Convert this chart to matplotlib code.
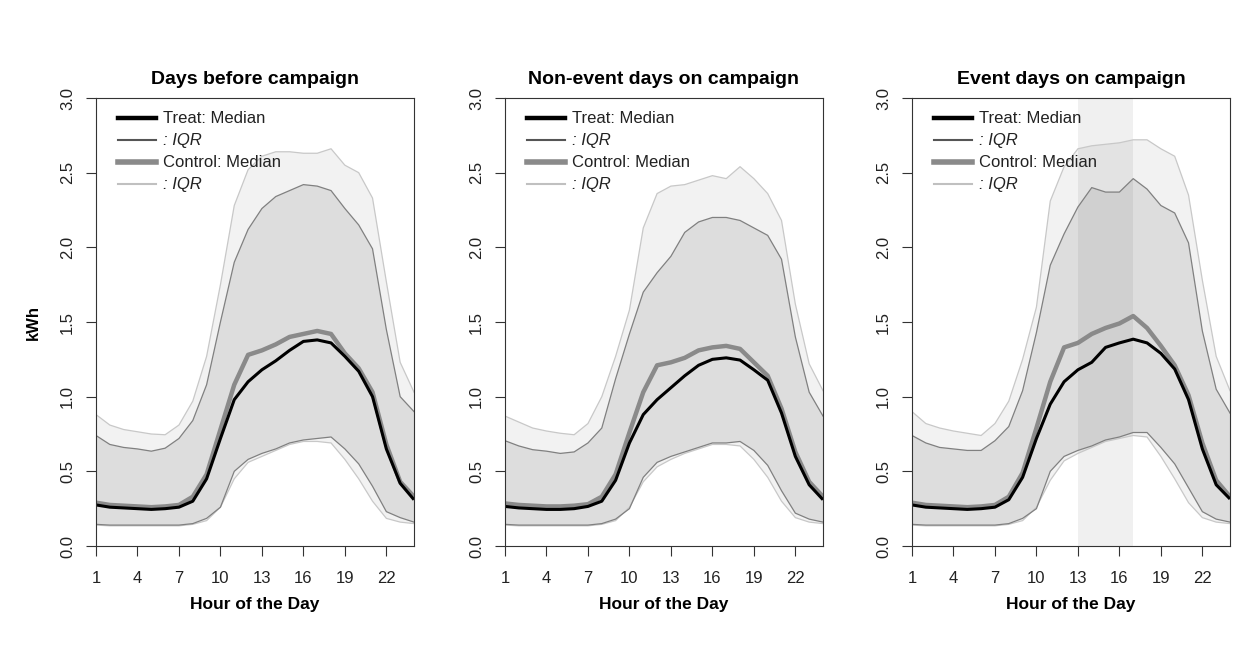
import matplotlib
matplotlib.use("Agg")
import matplotlib.pyplot as plt
from matplotlib.lines import Line2D

plt.rcParams['font.family'] = ['Liberation Sans', 'DejaVu Sans']

hours = list(range(1, 25))

titles = ["Days before campaign", "Non-event days on campaign", "Event days on campaign"]

# Days before campaign
treat_med_1 = [0.275, 0.26, 0.255, 0.25, 0.245, 0.25, 0.26, 0.30, 0.45, 0.72, 0.98, 1.10,
               1.18, 1.24, 1.31, 1.37, 1.38, 1.36, 1.27, 1.17, 1.00, 0.65, 0.42, 0.31]
ctrl_med_1 = [0.29, 0.275, 0.27, 0.265, 0.26, 0.265, 0.275, 0.33, 0.48, 0.78, 1.08, 1.28,
              1.31, 1.35, 1.40, 1.42, 1.44, 1.42, 1.29, 1.19, 1.03, 0.68, 0.43, 0.33]
treat_hi_1 = [0.74, 0.68, 0.66, 0.65, 0.635, 0.655, 0.72, 0.84, 1.08, 1.50, 1.90, 2.12,
              2.26, 2.34, 2.38, 2.42, 2.41, 2.38, 2.26, 2.15, 1.99, 1.45, 1.00, 0.90]
treat_lo_1 = [0.145, 0.14, 0.14, 0.14, 0.14, 0.14, 0.14, 0.15, 0.185, 0.26, 0.50, 0.58,
              0.62, 0.65, 0.69, 0.71, 0.72, 0.73, 0.65, 0.55, 0.40, 0.23, 0.19, 0.16]
ctrl_hi_1 = [0.88, 0.81, 0.78, 0.765, 0.75, 0.745, 0.81, 0.97, 1.27, 1.75, 2.28, 2.52,
             2.61, 2.64, 2.64, 2.63, 2.63, 2.66, 2.55, 2.50, 2.33, 1.77, 1.23, 1.03]
ctrl_lo_1 = [0.14, 0.135, 0.135, 0.135, 0.135, 0.135, 0.135, 0.145, 0.17, 0.26, 0.45, 0.56,
             0.60, 0.64, 0.68, 0.70, 0.70, 0.69, 0.58, 0.45, 0.30, 0.185, 0.16, 0.15]

# Non-event days on campaign
treat_med_2 = [0.265, 0.255, 0.25, 0.245, 0.245, 0.25, 0.265, 0.30, 0.44, 0.69, 0.88, 0.98,
               1.06, 1.14, 1.21, 1.25, 1.26, 1.245, 1.18, 1.11, 0.89, 0.60, 0.41, 0.31]
ctrl_med_2 = [0.285, 0.275, 0.27, 0.265, 0.265, 0.27, 0.28, 0.33, 0.48, 0.76, 1.03, 1.21,
              1.23, 1.26, 1.31, 1.33, 1.34, 1.32, 1.23, 1.14, 0.92, 0.63, 0.43, 0.33]
treat_hi_2 = [0.705, 0.67, 0.645, 0.635, 0.62, 0.63, 0.69, 0.79, 1.12, 1.42, 1.70, 1.83,
              1.94, 2.10, 2.17, 2.20, 2.20, 2.18, 2.13, 2.08, 1.92, 1.40, 1.03, 0.87]
treat_lo_2 = [0.145, 0.14, 0.14, 0.14, 0.14, 0.14, 0.14, 0.15, 0.18, 0.25, 0.46, 0.56,
              0.60, 0.63, 0.66, 0.69, 0.69, 0.70, 0.64, 0.54, 0.37, 0.22, 0.18, 0.16]
ctrl_hi_2 = [0.87, 0.83, 0.79, 0.77, 0.755, 0.745, 0.82, 1.00, 1.27, 1.58, 2.13, 2.36,
             2.41, 2.42, 2.45, 2.48, 2.46, 2.54, 2.46, 2.36, 2.18, 1.62, 1.22, 1.04]
ctrl_lo_2 = [0.14, 0.135, 0.135, 0.135, 0.135, 0.135, 0.135, 0.145, 0.17, 0.26, 0.43, 0.53,
             0.58, 0.62, 0.65, 0.68, 0.68, 0.67, 0.58, 0.46, 0.30, 0.19, 0.16, 0.15]

# Event days on campaign
treat_med_3 = [0.275, 0.26, 0.255, 0.25, 0.245, 0.25, 0.26, 0.31, 0.46, 0.72, 0.95, 1.10,
               1.18, 1.23, 1.33, 1.36, 1.385, 1.36, 1.29, 1.185, 0.98, 0.65, 0.41, 0.315]
ctrl_med_3 = [0.29, 0.275, 0.27, 0.265, 0.26, 0.265, 0.275, 0.33, 0.49, 0.79, 1.10, 1.33,
              1.36, 1.42, 1.46, 1.49, 1.54, 1.46, 1.34, 1.21, 1.01, 0.69, 0.44, 0.33]
treat_hi_3 = [0.74, 0.69, 0.66, 0.65, 0.64, 0.64, 0.705, 0.80, 1.04, 1.43, 1.88, 2.09,
              2.27, 2.40, 2.37, 2.37, 2.46, 2.39, 2.28, 2.23, 2.03, 1.44, 1.05, 0.89]
treat_lo_3 = [0.145, 0.14, 0.14, 0.14, 0.14, 0.14, 0.14, 0.15, 0.185, 0.25, 0.50, 0.60,
              0.64, 0.67, 0.71, 0.73, 0.76, 0.76, 0.66, 0.55, 0.39, 0.23, 0.18, 0.16]
ctrl_hi_3 = [0.90, 0.82, 0.79, 0.77, 0.755, 0.74, 0.82, 0.97, 1.25, 1.60, 2.31, 2.54,
             2.66, 2.68, 2.69, 2.70, 2.72, 2.72, 2.66, 2.61, 2.35, 1.78, 1.27, 1.04]
ctrl_lo_3 = [0.14, 0.135, 0.135, 0.135, 0.135, 0.135, 0.135, 0.145, 0.17, 0.26, 0.44, 0.57,
             0.62, 0.66, 0.70, 0.72, 0.74, 0.73, 0.60, 0.45, 0.29, 0.19, 0.16, 0.15]

event_window = (13, 17)

panels = [
    (treat_med_1, ctrl_med_1, treat_lo_1, treat_hi_1, ctrl_lo_1, ctrl_hi_1),
    (treat_med_2, ctrl_med_2, treat_lo_2, treat_hi_2, ctrl_lo_2, ctrl_hi_2),
    (treat_med_3, ctrl_med_3, treat_lo_3, treat_hi_3, ctrl_lo_3, ctrl_hi_3),
]

W, H = 1234, 655
fig = plt.figure(figsize=(W / 100, H / 100), dpi=100)

lefts = [96, 505, 912]
axw, bottom, top = 318, 546, 98

for i, (tm, cm, tlo, thi, clo, chi) in enumerate(panels):
    ax = fig.add_axes([lefts[i] / W, (H - bottom) / H, axw / W, (bottom - top) / H])

    # control IQR band (outer, light)
    ax.fill_between(hours, clo, chi, facecolor='black', alpha=0.05, lw=0)
    ax.plot(hours, chi, color='#c8c8c8', lw=0.9)
    ax.plot(hours, clo, color='#c8c8c8', lw=0.9)
    # treat IQR band
    ax.fill_between(hours, tlo, thi, facecolor='black', alpha=0.085, lw=0)
    ax.plot(hours, thi, color='#808080', lw=0.9)
    ax.plot(hours, tlo, color='#808080', lw=0.9)

    ax.plot(hours, cm, color='#8a8a8a', lw=3.2, solid_capstyle='butt')
    ax.plot(hours, tm, color='black', lw=2.2, solid_capstyle='butt')

    if i == 2:
        ax.axvspan(event_window[0], event_window[1], color='black', alpha=0.06, lw=0)

    ax.set_xlim(1, 24)
    ax.set_ylim(0, 3)
    ax.set_xticks([1, 4, 7, 10, 13, 16, 19, 22])
    ax.set_yticks([0, 0.5, 1.0, 1.5, 2.0, 2.5, 3.0])
    ax.set_yticklabels(["0.0", "0.5", "1.0", "1.5", "2.0", "2.5", "3.0"])
    ax.tick_params(axis='both', length=7, width=0.8, color='#333333',
                   labelsize=12, labelcolor='#222222', pad=8)
    ax.tick_params(axis='x', pad=11)
    for lab in ax.get_yticklabels():
        lab.set_rotation(90)
        lab.set_va('center')
    for sp in ax.spines.values():
        sp.set_color('#333333')
        sp.set_linewidth(0.8)

    ax.set_title(titles[i], fontsize=14, fontweight='bold', pad=10)
    ax.set_xlabel("Hour of the Day", fontsize=12.5, fontweight='bold', labelpad=8)
    if i == 0:
        ax.set_ylabel("kWh", fontsize=12, fontweight='bold', labelpad=14)

    handles = [
        Line2D([], [], color='black', lw=3.2),
        Line2D([], [], color='#555555', lw=1.5),
        Line2D([], [], color='#8a8a8a', lw=4),
        Line2D([], [], color='#c0c0c0', lw=1.5),
    ]
    labels = ["Treat: Median", ": IQR", "Control: Median", ": IQR"]
    leg = ax.legend(handles, labels, loc='upper left', bbox_to_anchor=(0.068, 0.97),
                    frameon=False, fontsize=12, handlelength=2.3, handletextpad=0.45,
                    labelspacing=0.42, borderaxespad=0, borderpad=0)
    for j, txt in enumerate(leg.get_texts()):
        txt.set_color('#222222')
        if j in (1, 3):
            txt.set_fontstyle('italic')

fig.savefig("out.png", dpi=100)
